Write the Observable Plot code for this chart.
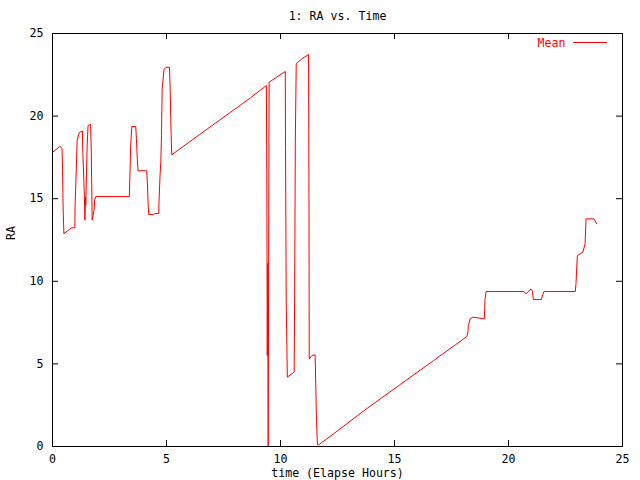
<!DOCTYPE html>
<html>
<head>
<meta charset="utf-8">
<script src="https://cdn.jsdelivr.net/npm/d3@7"></script>
<script src="https://cdn.jsdelivr.net/npm/@observablehq/plot@0.6"></script>
<style>
  html, body { margin: 0; padding: 0; background: white; }
  #wrap { position: relative; width: 640px; height: 480px; }
  #legendLine { position: absolute; left: 573px; top: 42px; width: 34px; height: 1px; background: #ff0000; }
</style>
</head>
<body>
<div id="wrap"></div>
<script>
const title = "1: RA vs. Time";
const xLabel = "time (Elapse Hours)";
const yLabel = "RA";
const seriesName = "Mean";
const xTicks = [0, 5, 10, 15, 20, 25];
const yTicks = [0, 5, 10, 15, 20, 25];

const times = [
  0.00, 0.28, 0.35, 0.42, 0.44, 0.47, 0.50, 0.64, 0.82, 0.98,
  0.99, 1.05, 1.08, 1.17, 1.31, 1.33, 1.37, 1.40, 1.42, 1.45,
  1.46, 1.49, 1.52, 1.56, 1.67, 1.70, 1.72, 1.74, 1.78, 1.83,
  1.85, 1.90, 3.37, 3.39, 3.43, 3.48, 3.65, 3.68, 3.72, 3.75,
  4.13, 4.16, 4.19, 4.22, 4.43, 4.46, 4.66, 4.67, 4.72, 4.75,
  4.78, 4.81, 4.89, 4.98, 5.13, 5.16, 5.20, 5.23, 7.22, 8.68,
  9.38, 9.40, 9.42, 9.44, 9.46, 9.50, 10.21, 10.22, 10.25, 10.30,
  10.60, 10.62, 10.65, 10.69, 10.94, 11.23, 11.25, 11.26, 11.38, 11.52,
  11.54, 11.58, 11.62, 11.67, 12.33, 13.79, 15.25, 16.71, 17.88, 18.17,
  18.22, 18.24, 18.32, 18.44, 18.94, 18.97, 19.02, 20.68, 20.77, 20.98,
  21.05, 21.09, 21.44, 21.50, 21.55, 22.93, 22.96, 23.02, 23.26, 23.36,
  23.40, 23.75, 23.87
];
const ra = [
  17.80, 18.12, 18.16, 18.02, 16.70, 14.20, 12.88, 13.03, 13.24, 13.24,
  14.49, 17.10, 18.50, 19.00, 19.10, 17.80, 16.30, 15.10, 13.70, 15.10,
  14.60, 16.50, 18.20, 19.43, 19.50, 18.00, 15.80, 13.70, 13.98, 14.39,
  14.93, 15.13, 15.13, 16.16, 18.26, 19.37, 19.37, 18.66, 17.37, 16.69,
  16.69, 16.00, 14.79, 14.04, 14.04, 14.10, 14.10, 14.79, 16.50, 17.20,
  18.83, 21.65, 22.82, 22.96, 22.96, 21.65, 19.03, 17.66, 19.65, 21.10,
  21.85, 16.40, 5.50, 11.10, 0.00, 22.05, 22.70, 18.10, 8.80, 4.20,
  4.50, 9.14, 18.50, 23.17, 23.47, 23.73, 14.49, 5.30, 5.51, 5.55,
  4.10, 1.50, 0.10, 0.10, 0.77, 2.30, 3.75, 5.20, 6.36, 6.66,
  6.92, 7.32, 7.73, 7.83, 7.73, 8.94, 9.38, 9.38, 9.24, 9.54,
  9.40, 8.90, 8.90, 9.18, 9.38, 9.38, 9.85, 11.56, 11.76, 12.27,
  13.78, 13.78, 13.48
];

const data = times.map((t, i) => ({t, v: ra[i]}));
const red = "#ff0000";

const W = 640, H = 480, mL = 52, mR = 18, mT = 33, mB = 34;
const frameW = W - mL - mR, frameH = H - mT - mB, tickLen = 6;
const xMin = 0, xMax = 25, yMin = 0, yMax = 25;

const chart = Plot.plot({
  width: W,
  height: H,
  marginLeft: mL,
  marginRight: mR,
  marginTop: mT,
  marginBottom: mB,
  style: {fontFamily: "DejaVu Sans Mono", fontSize: "11.6px", background: "white", color: "black"},
  x: {domain: [xMin, xMax], axis: null},
  y: {domain: [yMin, yMax], axis: null},
  marks: [
    Plot.line(data, {x: "t", y: "v", stroke: red, strokeWidth: 1}),
    Plot.frame({stroke: "black", strokeWidth: 1}),
    // inward tick marks on all four sides
    Plot.tickX(xTicks, {x: d => d, stroke: "black", strokeWidth: 1, insetTop: frameH - tickLen}),
    Plot.tickX(xTicks, {x: d => d, stroke: "black", strokeWidth: 1, insetBottom: frameH - tickLen}),
    Plot.tickY(yTicks, {y: d => d, stroke: "black", strokeWidth: 1, insetRight: frameW - tickLen}),
    Plot.tickY(yTicks, {y: d => d, stroke: "black", strokeWidth: 1, insetLeft: frameW - tickLen}),
    // tick labels
    Plot.text(xTicks, {x: d => d, text: d => String(d), frameAnchor: "bottom", dy: 8, lineAnchor: "top", fill: "black"}),
    Plot.text(yTicks, {y: d => d, text: d => String(d), frameAnchor: "left", dx: -9, textAnchor: "end", lineAnchor: "middle", fill: "black"}),
    Plot.text([title], {frameAnchor: "top", dy: -17.5, lineAnchor: "middle", fill: "black"}),
    Plot.text([xLabel], {frameAnchor: "bottom", dy: 27, lineAnchor: "middle", fill: "black"}),
    Plot.text([yLabel], {frameAnchor: "left", dx: -41.5, rotate: -90, lineAnchor: "middle", fill: "black"}),
    Plot.text([seriesName], {frameAnchor: "top-right", dx: -57, dy: 9.7, textAnchor: "end", lineAnchor: "middle", fill: red})
  ]
});

const wrap = document.getElementById("wrap");
wrap.appendChild(chart);
const ll = document.createElement("div");
ll.id = "legendLine";
wrap.appendChild(ll);
</script>
</body>
</html>
